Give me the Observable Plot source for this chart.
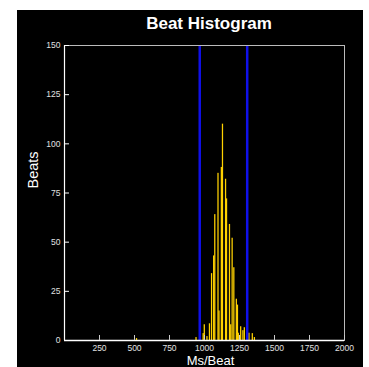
<!DOCTYPE html>
<html>
<head>
<meta charset="utf-8">
<script src="https://cdn.jsdelivr.net/npm/d3@7"></script>
<script src="https://cdn.jsdelivr.net/npm/@observablehq/plot@0.6"></script>
<style>
  html, body { margin: 0; padding: 0; background: #fff; }
  #panel { position: absolute; left: 17px; top: 10px; width: 346px; height: 357px; background: #000; overflow: hidden; font-family: "Liberation Sans", Arial, sans-serif; }
  #title { height: 26px; box-sizing: border-box; padding-top: 2px; padding-left: 38px; line-height: 24px; text-align: center; color: #fff; font-weight: bold; font-size: 17px; }
</style>
</head>
<body>
<div id="panel">
  <div id="title">Beat Histogram</div>
  <div id="chart"></div>
</div>
<script>
// Histogram bins (ms per beat) and beat counts
const msPerBeat = [518, 943, 994, 1002, 1021, 1039, 1054, 1069, 1077, 1100, 1107, 1124, 1132, 1154, 1161, 1182, 1191, 1201, 1213, 1231, 1239, 1245, 1262, 1278, 1288, 1321, 1345, 1360];
const beatCounts = [1, 1.5, 3.5, 8, 2, 8.5, 34, 43, 64, 85, 15, 88, 110, 82, 72, 59, 8, 52, 37, 21, 18, 3.7, 7, 5, 6.5, 3.7, 3.5, 1.5];
// Blue boundary lines
const boundaries = [966, 1305];
// Axis ticks
const xTicks = [250, 500, 750, 1000, 1250, 1500, 1750, 2000];
const yTicks = [0, 25, 50, 75, 100, 125, 150];

const bins = msPerBeat.map((m, i) => ({ms: m, count: beatCounts[i]}));

const tickColor = "#e0e0e0";
const chart = Plot.plot({
  width: 346,
  height: 331,
  marginTop: 9,
  marginLeft: 47,
  marginRight: 19,
  marginBottom: 27,
  style: {background: "black", color: tickColor, fontFamily: "'Liberation Sans', Arial, sans-serif", fontSize: "8.5px"},
  x: {domain: [0, 2000]},
  y: {domain: [0, 150]},
  marks: [
    Plot.rectY(bins, {x1: d => d.ms - 4.5, x2: d => d.ms + 4.5, y: "count", fill: "#FFD200"}),
    Plot.ruleX(boundaries, {stroke: "#1010E8", strokeWidth: 2.5}),
    Plot.frame({stroke: "#bbbbbb"}),
    Plot.ruleY([0], {stroke: "#ffffff", strokeWidth: 1.5}),
    Plot.ruleX([0], {stroke: "#ffffff", strokeWidth: 1.2}),
    Plot.axisX(xTicks, {tickSize: -5, tickPadding: 9, label: null, stroke: "#cccccc", tickFormat: d => String(d)}),
    Plot.axisY(yTicks, {tickSize: -5, tickPadding: 9, label: null, stroke: "#ffffff", tickFormat: d => String(d)}),
    Plot.text(["Beats"], {frameAnchor: "left", rotate: -90, dx: -31.5, dy: -4.5, fill: "#ffffff", fontSize: 14.5}),
    Plot.text(["Ms/Beat"], {frameAnchor: "bottom", lineAnchor: "top", dx: 6, dy: 14.8, fill: "#ffffff", fontSize: 13})
  ]
});
document.getElementById("chart").appendChild(chart);
</script>
</body>
</html>
